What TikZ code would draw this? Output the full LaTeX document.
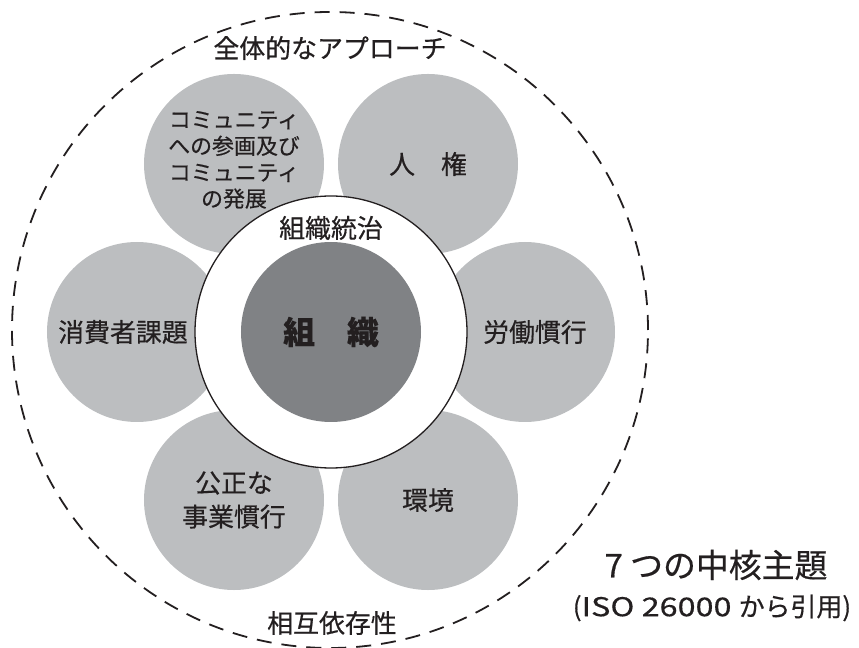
\documentclass[tikz,border=0pt]{standalone}
\usepackage{fontspec}
\setmainfont{Noto Sans CJK JP}[FakeBold=0.5]
\usetikzlibrary{positioning}
\definecolor{petalgray}{HTML}{BCBEC0}
\definecolor{coregray}{HTML}{808285}
\definecolor{ink}{HTML}{231F20}

\begin{document}
\begin{tikzpicture}[x=1bp,y=1bp,text=ink]
	\tikzstyle{petal}=[circle,fill=petalgray,minimum size=180bp,inner sep=0pt,align=center,font=\fontsize{26}{34}\selectfont]
	\tikzstyle{ring}=[circle,fill=white,draw=ink,line width=1.3bp,minimum size=272bp,inner sep=0pt]
	\tikzstyle{core}=[circle,fill=coregray,minimum size=180bp,inner sep=0pt,font=\fontsize{32}{32}\selectfont\bfseries\addfontfeature{FakeBold=0.1}]
	\tikzstyle{dashring}=[circle,draw=ink,dash pattern=on 15bp off 10bp,line width=1.8bp,minimum size=636bp,inner sep=0pt]
	\tikzstyle{ringtext}=[inner sep=0pt,font=\fontsize{26}{26}\selectfont]
	\useasboundingbox (-331,-316) rectangle (528,332);

	\coordinate (O) at (0,0);
	\node[dashring] (W) at (-1,2) {};

	% six core subjects round the organisation
	\node[petal,font=\fontsize{22}{26.5}\selectfont,text depth=10bp] (P1) at (120:194) {コミュニティ\\への参画及び\\コミュニティ\\の発展};
	\node[petal] (P2) at (60:194) {人　権};
	\node[petal] (P3) at (0:194) {\hspace{20bp}労働慣行};
	\node[petal] (P4) at (-60:194) {環境};
	\node[petal] (P5) at (-120:194) {公正な\\事業慣行};
	\node[petal] (P6) at (180:194) {消費者課題\hspace{28bp}};

	\node[ring] (R) at (O) {};
	\node[core] (C) at (O) {組　織};
	\node[ringtext] (G) at (0,104) {組織統治};

	\node[ringtext] (A) at (-1,284) {全体的なアプローチ};
	\node[ringtext] (I) at (1,-291) {相互依存性};

	\node[font=\fontsize{33}{33}\selectfont] (T) at (385,-233) {7 つの中核主題};
	\node[font=\fontsize{26}{26}\selectfont] (S) at (381,-276) {({\addfontfeature{FakeStretch=1.25}ISO 26000 }から引用)};
\end{tikzpicture}
\end{document}
